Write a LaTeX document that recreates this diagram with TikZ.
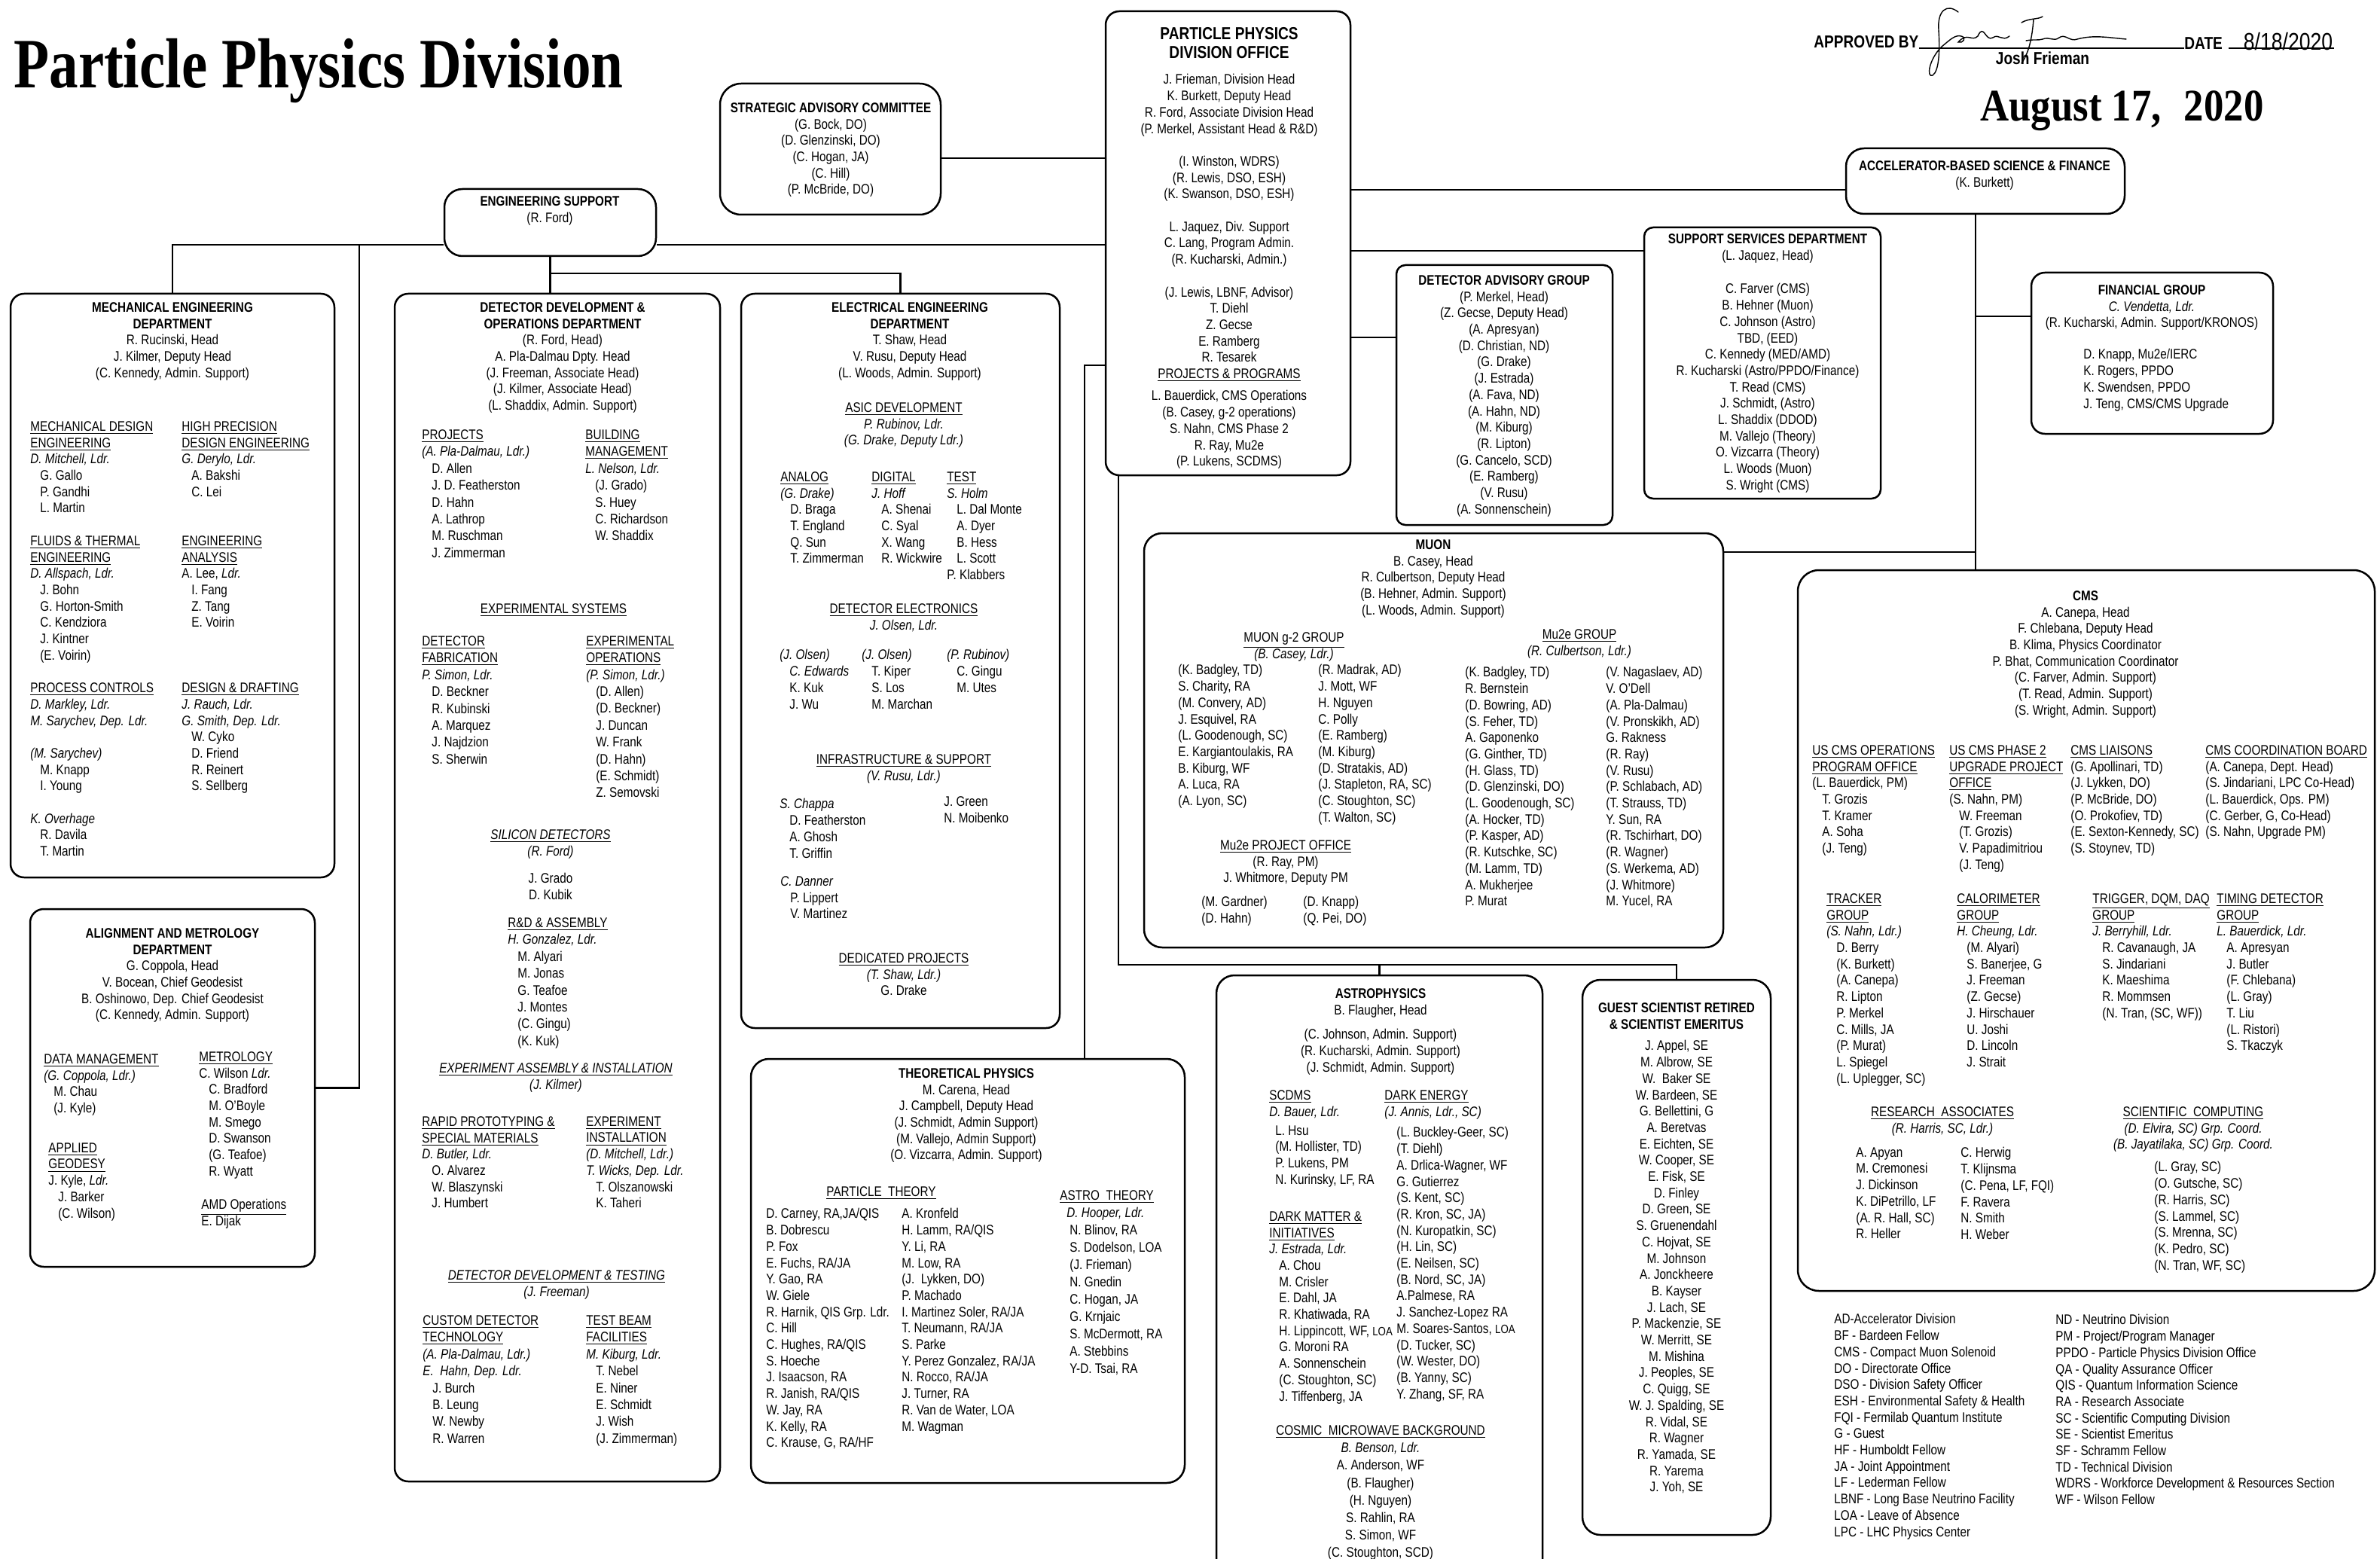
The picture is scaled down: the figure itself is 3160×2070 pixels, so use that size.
\documentclass[tikz,border=0pt]{standalone}
\usepackage{fontspec}
\setmainfont{Liberation Sans}[FakeStretch=0.83]
\newfontfamily\ttlfont{Liberation Serif}[FakeStretch=0.82]
\newfontfamily\dtfont{Liberation Serif}[FakeStretch=0.88]
\usetikzlibrary{fit}

\newcommand\nrm{\fontsize{9.2}{10.85}\selectfont}
\newcommand\ii{\hspace*{6.5pt}}
\newcommand\hd[1]{\underline{#1}}
\newcommand\hdi[1]{\underline{\textit{#1}}}
\newcommand\ld[1]{\textit{#1}}

\tikzset{
  orgbox/.style={draw, line width=1.25pt, rounded corners=9pt, inner sep=0pt},
  link/.style={line width=1.1pt},
  lst/.style={anchor=north west, align=left, inner sep=0pt, yshift=3.4pt, font=\nrm},
  cen/.style={lst, anchor=north, align=center},
  loose/.style={font=\fontsize{9.2}{11.2}\selectfont},
  sig/.style={line width=0.7pt, line cap=round},
}

\begin{document}
\begin{tikzpicture}[x=0.5pt,y=-0.5pt]
  \useasboundingbox (0,0) rectangle (3160,2070);
  \clip (0,0) rectangle (3160,2070);

  % --- header ---
  \node[anchor=base west, inner sep=0pt, font={\fontsize{47}{50}\ttlfont\bfseries}] (ttl) at (18,117) {Particle Physics Division};
  \node[anchor=base west, inner sep=0pt, font={\fontsize{30}{32}\dtfont\bfseries}] (dte) at (2629,161) {August 17,\hspace{0.5em}2020};
  \node[anchor=base west, inner sep=0pt, font={\fontsize{11.5}{12}\selectfont\bfseries}] (apprv) at (2408,64) {APPROVED BY};
  \node[anchor=base west, inner sep=0pt, font={\fontsize{11.5}{12}\selectfont\bfseries}] (datelbl) at (2900,66) {DATE};
  \node[anchor=base, inner sep=0pt, font={\fontsize{11.5}{12}\selectfont\bfseries}] (signer) at (2712,86) {Josh Frieman};
  \node[anchor=base, inner sep=0pt, font={\fontsize{16}{18}\selectfont}] (signdate) at (3038,67) {8/18/2020};
  \coordinate (lineend) at (3099,64);
  \draw[line width=0.8pt] (apprv.base east) -- (datelbl.base west |- apprv.base);
  \draw[line width=0.8pt] (datelbl.base east |- lineend) ++(8,0) -- (lineend);

  % --- signature ---
  \draw[sig] (2600,16) .. controls (2585,4) and (2572,14) .. (2574,40)
    .. controls (2576,70) and (2574,95) .. (2566,100)
    .. controls (2558,104) and (2560,80) .. (2578,62)
    .. controls (2590,52) and (2596,46) .. (2604,48)
    .. controls (2612,50) and (2606,58) .. (2600,56)
    .. controls (2612,42) and (2618,56) .. (2626,48)
    .. controls (2634,30) and (2636,56) .. (2646,50)
    .. controls (2654,44) and (2658,56) .. (2668,48);
  \draw[sig] (2684,30) .. controls (2694,24) and (2706,26) .. (2712,22);
  \draw[sig] (2700,26) .. controls (2698,50) and (2694,70) .. (2684,84);
  \draw[sig] (2690,54) .. controls (2700,52) and (2706,54) .. (2712,52)
    .. controls (2722,48) and (2726,56) .. (2734,50)
    .. controls (2742,44) and (2748,56) .. (2758,52)
    .. controls (2780,46) and (2800,50) .. (2823,52);

  % --- boxes ---
  \node[orgbox, rounded corners=14pt, fit={(956,111) (1249,285)}] (strat) {};
  \node[orgbox, fit={(1468,15) (1793,631)}] (office) {};
  \node[orgbox, rounded corners=12pt, fit={(590,251) (871,340)}] (engsup) {};
  \node[orgbox, rounded corners=12pt, fit={(2451,197) (2821,284)}] (accel) {};
  \node[orgbox, rounded corners=6pt, fit={(2183,302) (2497,662)}] (supsvc) {};
  \node[orgbox, rounded corners=6pt, fit={(1854,352) (2141,697)}] (detadv) {};
  \node[orgbox, fit={(2697,362) (3018,576)}] (fin) {};
  \node[orgbox, fit={(14,390) (444,1165)}] (mech) {};
  \node[orgbox, fit={(40,1207) (418,1682)}] (align) {};
  \node[orgbox, fit={(524,390) (956,1967)}] (ddo) {};
  \node[orgbox, fit={(984,390) (1407,1365)}] (ee) {};
  \node[orgbox, rounded corners=12pt, fit={(1519,708) (2288,1258)}] (muon) {};
  \node[orgbox, rounded corners=12pt, fit={(997,1406) (1573,1969)}] (theory) {};
  \node[orgbox, rounded corners=12pt, fit={(1615,1295) (2048,2110)}] (astro) {};
  \node[orgbox, rounded corners=12pt, fit={(2101,1301) (2351,2038)}] (guest) {};
  \node[orgbox, rounded corners=14pt, fit={(2387,757) (3153,1714)}] (cms) {};

  % --- connectors ---
  \coordinate (stbus) at (1300,210);
  \coordinate (engbus) at (229,325);
  \coordinate (alignbus) at (477,325);
  \coordinate (eebus) at (730,363);
  \coordinate (thbus) at (1440,485);
  \coordinate (lowbus) at (1485,1281);
  \coordinate (acbus) at (1800,252);
  \coordinate (svbus) at (1800,333);
  \coordinate (dabus) at (1800,448);
  \coordinate (rbus) at (2623,420);
  \coordinate (mubus) at (2623,733);
  \draw[link] (strat.east |- stbus) -- (office.west |- stbus);
  \draw[link] (office.west |- engbus) -- (engsup.east |- engbus);
  \draw[link] (engsup.west |- engbus) -- (engbus) -- (mech.north);
  \draw[link] (alignbus) |- (align.east);
  \draw[link] (engsup.south) -- (engsup.south |- ddo.north);
  \draw[link] (eebus) -| (ee.north);
  \draw[link] (office.west |- thbus) -- (thbus) -- (thbus |- theory.north);
  \draw[link] (office.south -| lowbus) -- (lowbus) -| (guest.north);
  \draw[link] (astro.north |- lowbus) -- (astro.north);
  \draw[link] (office.east |- acbus) -- (accel.west |- acbus);
  \draw[link] (office.east |- svbus) -- (supsvc.west |- svbus);
  \draw[link] (office.east |- dabus) -- (detadv.west |- dabus);
  \draw[link] (accel.south -| rbus) -- (rbus |- cms.north);
  \draw[link] (rbus) -- (fin.west |- rbus);
  \draw[link] (mubus) -- (muon.east |- mubus);

  % --- strategic advisory committee ---
  \node[cen] (strattx) at (1103,143) {\textbf{STRATEGIC ADVISORY COMMITTEE}\\(G. Bock, DO)\\(D. Glenzinski, DO)\\(C. Hogan, JA)\\(C. Hill)\\(P. McBride, DO)};

  % --- division office ---
  \node[cen, font={\fontsize{11.5}{12.5}\selectfont\bfseries}, yshift=0.9pt] (offttl) at (1632,45) {PARTICLE PHYSICS\\DIVISION OFFICE};
  \node[cen] (offstaff) at (1632,105) {J. Frieman, Division Head\\K. Burkett, Deputy Head\\R. Ford, Associate Division Head\\(P. Merkel, Assistant Head \& R\&D)\\[10.85pt](I. Winston, WDRS)\\(R. Lewis, DSO, ESH)\\(K. Swanson, DSO, ESH)\\[10.85pt]L. Jaquez, Div. Support\\C. Lang, Program Admin.\\(R. Kucharski, Admin.)\\[10.85pt](J. Lewis, LBNF, Advisor)\\T. Diehl\\Z. Gecse\\E. Ramberg\\R. Tesarek\\\hd{PROJECTS \& PROGRAMS}};
  \node[cen] (offproj) at (1632,525) {L. Bauerdick, CMS Operations\\(B. Casey, g-2 operations)\\S. Nahn, CMS Phase 2\\R. Ray, Mu2e\\(P. Lukens, SCDMS)};

  % --- engineering support, accelerator-based science ---
  \node[cen] (engsuptx) at (730,267) {\textbf{ENGINEERING SUPPORT}\\(R. Ford)};
  \node[cen] (acceltx) at (2635,220) {\textbf{ACCELERATOR-BASED SCIENCE \& FINANCE}\\(K. Burkett)};

  % --- support services ---
  \node[cen] (supsvchd) at (2347,317) {\textbf{SUPPORT SERVICES DEPARTMENT}\\(L. Jaquez, Head)};
  \node[cen] (supsvctx) at (2347,383) {C. Farver (CMS)\\B. Hehner (Muon)\\C. Johnson (Astro)\\TBD, (EED)\\C. Kennedy (MED/AMD)\\R. Kucharski (Astro/PPDO/Finance)\\T. Read (CMS)\\J. Schmidt, (Astro)\\L. Shaddix (DDOD)\\M. Vallejo (Theory)\\O. Vizcarra (Theory)\\L. Woods (Muon)\\S. Wright (CMS)};

  % --- detector advisory group ---
  \node[cen] (detadvtx) at (1997,372) {\textbf{DETECTOR ADVISORY GROUP}\\(P. Merkel, Head)\\(Z. Gecse, Deputy Head)\\(A. Apresyan)\\(D. Christian, ND)\\(G. Drake)\\(J. Estrada)\\(A. Fava, ND)\\(A. Hahn, ND)\\(M. Kiburg)\\(R. Lipton)\\(G. Cancelo, SCD)\\(E. Ramberg)\\(V. Rusu)\\(A. Sonnenschein)};

  % --- financial group ---
  \node[cen] (finhd) at (2857,385) {\textbf{FINANCIAL GROUP}\\\ld{C. Vendetta, Ldr.}\\(R. Kucharski, Admin. Support/KRONOS)};
  \node[lst] (fintx) at (2766,470) {D. Knapp, Mu2e/IERC\\K. Rogers, PPDO\\K. Swendsen, PPDO\\J. Teng, CMS/CMS Upgrade};

  % --- mechanical engineering ---
  \node[cen] (mechhd) at (229,408) {\textbf{MECHANICAL ENGINEERING}\\\textbf{DEPARTMENT}\\R. Rucinski, Head\\J. Kilmer, Deputy Head\\(C. Kennedy, Admin. Support)};
  \node[lst] (mechcola) at (40,566) {\hd{MECHANICAL DESIGN}\\\hd{ENGINEERING}\\\ld{D. Mitchell, Ldr.}\\\ii G. Gallo\\\ii P. Gandhi\\\ii L. Martin\\[10.85pt]\hd{FLUIDS \& THERMAL}\\\hd{ENGINEERING}\\\ld{D. Allspach, Ldr.}\\\ii J. Bohn\\\ii G. Horton-Smith\\\ii C. Kendziora\\\ii J. Kintner\\\ii (E. Voirin)\\[10.85pt]\hd{PROCESS CONTROLS}\\\ld{D. Markley, Ldr.}\\\ld{M. Sarychev, Dep. Ldr.}\\[10.85pt]\ld{(M. Sarychev)}\\\ii M. Knapp\\\ii I. Young\\[10.85pt]\ld{K. Overhage}\\\ii R. Davila\\\ii T. Martin};
  \node[lst] (mechcolb) at (241,566) {\hd{HIGH PRECISION}\\\hd{DESIGN ENGINEERING}\\\ld{G. Derylo, Ldr.}\\\ii A. Bakshi\\\ii C. Lei\\[21.7pt]\hd{ENGINEERING}\\\hd{ANALYSIS}\\A. Lee, \ld{Ldr.}\\\ii I. Fang\\\ii Z. Tang\\\ii E. Voirin\\[32.55pt]\hd{DESIGN \& DRAFTING}\\\ld{J. Rauch, Ldr.}\\\ld{G. Smith, Dep. Ldr.}\\\ii W. Cyko\\\ii D. Friend\\\ii R. Reinert\\\ii S. Sellberg};

  % --- alignment and metrology ---
  \node[cen] (alignhd) at (229,1239) {\textbf{ALIGNMENT AND METROLOGY}\\\textbf{DEPARTMENT}\\G. Coppola, Head\\V. Bocean, Chief Geodesist\\B. Oshinowo, Dep. Chief Geodesist\\(C. Kennedy, Admin. Support)};
  \node[lst] (aligndata) at (58,1406) {\hd{DATA MANAGEMENT}\\\ld{(G. Coppola, Ldr.)}\\\ii M. Chau\\\ii (J. Kyle)};
  \node[lst] (aligngeo) at (64,1524) {\hd{APPLIED}\\\hd{GEODESY}\\J. Kyle, \ld{Ldr.}\\\ii J. Barker\\\ii (C. Wilson)};
  \node[lst] (alignmet) at (264,1403) {\hd{METROLOGY}\\C. Wilson \ld{Ldr.}\\\ii C. Bradford\\\ii M. O’Boyle\\\ii M. Smego\\\ii D. Swanson\\\ii (G. Teafoe)\\\ii R. Wyatt};
  \node[lst] (alignamd) at (267,1599) {\hd{AMD Operations}\\E. Dijak};

  % --- detector development & operations ---
  \node[cen] (ddohd) at (747,408) {\textbf{DETECTOR DEVELOPMENT \&}\\\textbf{OPERATIONS DEPARTMENT}\\(R. Ford, Head)\\A. Pla-Dalmau Dpty. Head\\(J. Freeman, Associate Head)\\(J. Kilmer, Associate Head)\\(L. Shaddix, Admin. Support)};
  \node[lst, loose] (ddoproj) at (560,577) {\hd{PROJECTS}\\\ld{(A. Pla-Dalmau, Ldr.)}\\\ii D. Allen\\\ii J. D. Featherston\\\ii D. Hahn\\\ii A. Lathrop\\\ii M. Ruschman\\\ii J. Zimmerman};
  \node[lst, loose] (ddobldg) at (777,577) {\hd{BUILDING}\\\hd{MANAGEMENT}\\\ld{L. Nelson, Ldr.}\\\ii (J. Grado)\\\ii S. Huey\\\ii C. Richardson\\\ii W. Shaddix};
  \node[cen] (ddoexpsys) at (735,808) {\hd{EXPERIMENTAL SYSTEMS}};
  \node[lst, loose] (ddofab) at (560,851) {\hd{DETECTOR}\\\hd{FABRICATION}\\\ld{P. Simon, Ldr.}\\\ii D. Beckner\\\ii R. Kubinski\\\ii A. Marquez\\\ii J. Najdzion\\\ii S. Sherwin};
  \node[lst, loose] (ddoops) at (778,851) {\hd{EXPERIMENTAL}\\\hd{OPERATIONS}\\\ld{(P. Simon, Ldr.)}\\\ii (D. Allen)\\\ii (D. Beckner)\\\ii J. Duncan\\\ii W. Frank\\\ii (D. Hahn)\\\ii (E. Schmidt)\\\ii Z. Semovski};
  \node[cen] (ddosil) at (731,1108) {\hdi{SILICON DETECTORS}\\\ld{(R. Ford)}};
  \node[cen] (ddosilnm) at (731,1166) {J. Grado\\D. Kubik};
  \node[lst, loose] (ddornd) at (674,1225) {\hd{R\&D \& ASSEMBLY}\\\ld{H. Gonzalez, Ldr.}\\\ii M. Alyari\\\ii M. Jonas\\\ii G. Teafoe\\\ii J. Montes\\\ii (C. Gingu)\\\ii (K. Kuk)};
  \node[cen] (ddoasm) at (738,1418) {\hdi{EXPERIMENT ASSEMBLY \& INSTALLATION}\\\ld{(J. Kilmer)}};
  \node[lst] (ddorapid) at (560,1489) {\hd{RAPID PROTOTYPING \&}\\\hd{SPECIAL MATERIALS}\\\ld{D. Butler, Ldr.}\\\ii O. Alvarez\\\ii W. Blaszynski\\\ii J. Humbert};
  \node[lst] (ddoinst) at (778,1489) {\hd{EXPERIMENT}\\\hd{INSTALLATION}\\\ld{(D. Mitchell, Ldr.)}\\\ld{T. Wicks, Dep. Ldr.}\\\ii T. Olszanowski\\\ii K. Taheri};
  \node[cen] (ddotest) at (739,1693) {\hdi{DETECTOR DEVELOPMENT \& TESTING}\\\ld{(J. Freeman)}};
  \node[lst, loose] (ddocustom) at (561,1753) {\hd{CUSTOM DETECTOR}\\\hd{TECHNOLOGY}\\\ld{(A. Pla-Dalmau, Ldr.)}\\\ld{E.\ \ Hahn, Dep. Ldr.}\\\ii J. Burch\\\ii B. Leung\\\ii W. Newby\\\ii R. Warren};
  \node[lst, loose] (ddobeam) at (778,1753) {\hd{TEST BEAM}\\\hd{FACILITIES}\\\ld{M. Kiburg, Ldr.}\\\ii T. Nebel\\\ii E. Niner\\\ii E. Schmidt\\\ii J. Wish\\\ii (J. Zimmerman)};

  % --- electrical engineering ---
  \node[cen] (eehd) at (1208,408) {\textbf{ELECTRICAL ENGINEERING}\\\textbf{DEPARTMENT}\\T. Shaw, Head\\V. Rusu, Deputy Head\\(L. Woods, Admin. Support)};
  \node[cen] (eeasic) at (1200,541) {\hd{ASIC DEVELOPMENT}\\\ld{P. Rubinov, Ldr.}\\\ld{(G. Drake, Deputy Ldr.)}};
  \node[lst] (eeanalog) at (1036,633) {\hd{ANALOG}\\\ld{(G. Drake)}\\\ii D. Braga\\\ii T. England\\\ii Q. Sun\\\ii T. Zimmerman};
  \node[lst] (eedigital) at (1157,633) {\hd{DIGITAL}\\\ld{J. Hoff}\\\ii A. Shenai\\\ii C. Syal\\\ii X. Wang\\\ii R. Wickwire};
  \node[lst] (eetest) at (1257,633) {\hd{TEST}\\\ld{S. Holm}\\\ii L. Dal Monte\\\ii A. Dyer\\\ii B. Hess\\\ii L. Scott\\P. Klabbers};
  \node[cen] (eedet) at (1200,808) {\hd{DETECTOR ELECTRONICS}\\\ld{J. Olsen, Ldr.}};
  \node[lst] (eedeta) at (1035,869) {\ld{(J. Olsen)}\\\ii\ld{C. Edwards}\\\ii K. Kuk\\\ii J. Wu};
  \node[lst] (eedetb) at (1144,869) {\ld{(J. Olsen)}\\\ii T. Kiper\\\ii S. Los\\\ii M. Marchan};
  \node[lst] (eedetc) at (1257,869) {\ld{(P. Rubinov)}\\\ii C. Gingu\\\ii M. Utes};
  \node[cen] (eeinfra) at (1200,1008) {\hd{INFRASTRUCTURE \& SUPPORT}\\\ld{(V. Rusu, Ldr.)}};
  \node[lst] (eechappa) at (1035,1067) {\ld{S. Chappa}\\\ii D. Featherston\\\ii A. Ghosh\\\ii T. Griffin};
  \node[lst] (eedanner) at (1036,1170) {\ld{C. Danner}\\\ii P. Lippert\\\ii V. Martinez};
  \node[lst] (eegreen) at (1253,1064) {J. Green\\N. Moibenko};
  \node[cen] (eeded) at (1200,1272) {\hd{DEDICATED PROJECTS}\\\ld{(T. Shaw, Ldr.)}\\G. Drake};

  % --- muon ---
  \node[cen] (muonhd) at (1903,723) {\textbf{MUON}\\B. Casey, Head\\R. Culbertson, Deputy Head\\(B. Hehner, Admin. Support)\\(L. Woods, Admin. Support)};
  \node[cen] (gmtwohd) at (1718,846) {\hd{MUON g-2 GROUP}\\\ld{(B. Casey, Ldr.)}};
  \node[lst] (gmtwoa) at (1564,889) {(K. Badgley, TD)\\S. Charity, RA\\(M. Convery, AD)\\J. Esquivel, RA\\(L. Goodenough, SC)\\E. Kargiantoulakis, RA\\B. Kiburg, WF\\A. Luca, RA\\(A. Lyon, SC)};
  \node[lst] (gmtwob) at (1750,889) {(R. Madrak, AD)\\J. Mott, WF\\H. Nguyen\\C. Polly\\(E. Ramberg)\\(M. Kiburg)\\(D. Stratakis, AD)\\(J. Stapleton, RA, SC)\\(C. Stoughton, SC)\\(T. Walton, SC)};
  \node[cen] (mutwoepo) at (1707,1122) {\hd{Mu2e PROJECT OFFICE}\\(R. Ray, PM)\\J. Whitmore, Deputy PM};
  \node[lst] (mutwoepoa) at (1595,1197) {(M. Gardner)\\(D. Hahn)};
  \node[lst] (mutwoepob) at (1730,1197) {(D. Knapp)\\(Q. Pei, DO)};
  \node[cen] (mutwoehd) at (2097,842) {\hd{Mu2e GROUP}\\\ld{(R. Culbertson, Ldr.)}};
  \node[lst] (mutwoea) at (1945,892) {(K. Badgley, TD)\\R. Bernstein\\(D. Bowring, AD)\\(S. Feher, TD)\\A. Gaponenko\\(G. Ginther, TD)\\(H. Glass, TD)\\(D. Glenzinski, DO)\\(L. Goodenough, SC)\\(A. Hocker, TD)\\(P. Kasper, AD)\\(R. Kutschke, SC)\\(M. Lamm, TD)\\A. Mukherjee\\P. Murat};
  \node[lst] (mutwoeb) at (2132,892) {(V. Nagaslaev, AD)\\V. O’Dell\\(A. Pla-Dalmau)\\(V. Pronskikh, AD)\\G. Rakness\\(R. Ray)\\(V. Rusu)\\(P. Schlabach, AD)\\(T. Strauss, TD)\\Y. Sun, RA\\(R. Tschirhart, DO)\\(R. Wagner)\\(S. Werkema, AD)\\(J. Whitmore)\\M. Yucel, RA};

  % --- theoretical physics ---
  \node[cen] (theohd) at (1283,1425) {\textbf{THEORETICAL PHYSICS}\\M. Carena, Head\\J. Campbell, Deputy Head\\(J. Schmidt, Admin Support)\\(M. Vallejo, Admin Support)\\(O. Vizcarra, Admin. Support)};
  \node[cen] (theopart) at (1170,1582) {\hd{PARTICLE\ \ THEORY}};
  \node[lst] (theoparta) at (1017,1611) {D. Carney, RA,JA/QIS\\B. Dobrescu\\P. Fox\\E. Fuchs, RA/JA\\Y. Gao, RA\\W. Giele\\R. Harnik, QIS Grp. Ldr.\\C. Hill\\C. Hughes, RA/QIS\\S. Hoeche\\J. Isaacson, RA\\R. Janish, RA/QIS\\W. Jay, RA\\K. Kelly, RA\\C. Krause, G, RA/HF};
  \node[lst] (theopartb) at (1197,1611) {A. Kronfeld\\H. Lamm, RA/QIS\\Y. Li, RA\\M. Low, RA\\(J.\ \ Lykken, DO)\\P. Machado\\I. Martinez Soler, RA/JA\\T. Neumann, RA/JA\\S. Parke\\Y. Perez Gonzalez, RA/JA\\N. Rocco, RA/JA\\J. Turner, RA\\R. Van de Water, LOA\\M. Wagman};
  \node[lst, font={\fontsize{9.2}{11.5}\selectfont}] (theoastro) at (1407,1587) {\hd{ASTRO\ \ THEORY}\\\hspace*{4.5pt}\ld{D. Hooper, Ldr.}\\\ii N. Blinov, RA\\\ii S. Dodelson, LOA\\\ii (J. Frieman)\\\ii N. Gnedin\\\ii C. Hogan, JA\\\ii G. Krnjaic\\\ii S. McDermott, RA\\\ii A. Stebbins\\\ii Y-D. Tsai, RA};

  % --- astrophysics ---
  \node[cen] (astrohd) at (1833,1319) {\textbf{ASTROPHYSICS}\\B. Flaugher, Head};
  \node[cen] (astroadm) at (1833,1373) {(C. Johnson, Admin. Support)\\(R. Kucharski, Admin. Support)\\(J. Schmidt, Admin. Support)};
  \node[lst] (scdmshd) at (1685,1454) {\hd{SCDMS}\\\ld{D. Bauer, Ldr.}};
  \node[lst] (scdms) at (1693,1501) {L. Hsu\\(M. Hollister, TD)\\P. Lukens, PM\\N. Kurinsky, LF, RA};
  \node[lst] (darkmat) at (1685,1615) {\hd{DARK MATTER \&}\\\hd{INITIATIVES}\\\ld{J. Estrada, Ldr.}\\\ii A. Chou\\\ii M. Crisler\\\ii E. Dahl, JA\\\ii R. Khatiwada, RA\\\ii H. Lippincott, WF, {\footnotesize LOA}\\\ii G. Moroni RA\\\ii A. Sonnenschein\\\ii (C. Stoughton, SC)\\\ii J. Tiffenberg, JA};
  \node[lst] (darkenhd) at (1838,1454) {\hd{DARK ENERGY}\\\ld{(J. Annis, Ldr., SC)}};
  \node[lst] (darken) at (1854,1503) {(L. Buckley-Geer, SC)\\(T. Diehl)\\A. Drlica-Wagner, WF\\G. Gutierrez\\(S. Kent, SC)\\(R. Kron, SC, JA)\\(N. Kuropatkin, SC)\\(H. Lin, SC)\\(E. Neilsen, SC)\\(B. Nord, SC, JA)\\A.Palmese, RA\\J. Sanchez-Lopez RA\\M. Soares-Santos, {\footnotesize LOA}\\(D. Tucker, SC)\\(W. Wester, DO)\\(B. Yanny, SC)\\Y. Zhang, SF, RA};
  \node[cen, font={\fontsize{9.2}{11.6}\selectfont}] (cmb) at (1833,1899) {\hd{COSMIC\ \ MICROWAVE BACKGROUND}\\\ld{B. Benson, Ldr.}\\A. Anderson, WF\\(B. Flaugher)\\(H. Nguyen)\\S. Rahlin, RA\\S. Simon, WF\\(C. Stoughton, SCD)};

  % --- guest scientists ---
  \node[cen] (guesthd) at (2226,1338) {\textbf{GUEST SCIENTIST RETIRED}\\\textbf{\& SCIENTIST EMERITUS}};
  \node[cen] (guesttx) at (2226,1388) {J. Appel, SE\\M. Albrow, SE\\W.\ \ Baker SE\\W. Bardeen, SE\\G. Bellettini, G\\A. Beretvas\\E. Eichten, SE\\W. Cooper, SE\\E. Fisk, SE\\D. Finley\\D. Green, SE\\S. Gruenendahl\\C. Hojvat, SE\\M. Johnson\\A. Jonckheere\\B. Kayser\\J. Lach, SE\\P. Mackenzie, SE\\W. Merritt, SE\\M. Mishina\\J. Peoples, SE\\C. Quigg, SE\\W. J. Spalding, SE\\R. Vidal, SE\\R. Wagner\\R. Yamada, SE\\R. Yarema\\J. Yoh, SE};

  % --- cms ---
  \node[cen] (cmshd) at (2769,791) {\textbf{CMS}\\A. Canepa, Head\\F. Chlebana, Deputy Head\\B. Klima, Physics Coordinator\\P. Bhat, Communication Coordinator\\(C. Farver, Admin. Support)\\(T. Read, Admin. Support)\\(S. Wright, Admin. Support)};
  \node[lst] (cmsops) at (2406,996) {\hd{US CMS OPERATIONS}\\\hd{PROGRAM OFFICE}\\(L. Bauerdick, PM)\\\ii T. Grozis\\\ii T. Kramer\\\ii A. Soha\\\ii (J. Teng)};
  \node[lst] (cmsphase) at (2588,996) {\hd{US CMS PHASE 2}\\\hd{UPGRADE PROJECT}\\\hd{OFFICE}\\(S. Nahn, PM)\\\ii W. Freeman\\\ii (T. Grozis)\\\ii V. Papadimitriou\\\ii (J. Teng)};
  \node[lst] (cmsliais) at (2749,996) {\hd{CMS LIAISONS}\\(G. Apollinari, TD)\\(J. Lykken, DO)\\(P. McBride, DO)\\(O. Prokofiev, TD)\\(E. Sexton-Kennedy, SC)\\(S. Stoynev, TD)};
  \node[lst] (cmscoord) at (2928,996) {\hd{CMS COORDINATION BOARD}\\(A. Canepa, Dept. Head)\\(S. Jindariani, LPC Co-Head)\\(L. Bauerdick, Ops. PM)\\(C. Gerber, G, Co-Head)\\(S. Nahn, Upgrade PM)};
  \node[lst] (cmstrack) at (2425,1193) {\hd{TRACKER}\\\hd{GROUP}\\\ld{(S. Nahn, Ldr.)}\\\ii D. Berry\\\ii (K. Burkett)\\\ii (A. Canepa)\\\ii R. Lipton\\\ii P. Merkel\\\ii C. Mills, JA\\\ii (P. Murat)\\\ii L. Spiegel\\\ii (L. Uplegger, SC)};
  \node[lst] (cmscalo) at (2598,1193) {\hd{CALORIMETER}\\\hd{GROUP}\\\ld{H. Cheung, Ldr.}\\\ii (M. Alyari)\\\ii S. Banerjee, G\\\ii J. Freeman\\\ii (Z. Gecse)\\\ii J. Hirschauer\\\ii U. Joshi\\\ii D. Lincoln\\\ii J. Strait};
  \node[lst] (cmstrig) at (2778,1193) {\hd{TRIGGER, DQM, DAQ}\\\hd{GROUP}\\\ld{J. Berryhill, Ldr.}\\\ii R. Cavanaugh, JA\\\ii S. Jindariani\\\ii K. Maeshima\\\ii R. Mommsen\\\ii (N. Tran, (SC, WF))};
  \node[lst] (cmstime) at (2943,1193) {\hd{TIMING DETECTOR}\\\hd{GROUP}\\\ld{L. Bauerdick, Ldr.}\\\ii A. Apresyan\\\ii J. Butler\\\ii (F. Chlebana)\\\ii (L. Gray)\\\ii T. Liu\\\ii (L. Ristori)\\\ii S. Tkaczyk};
  \node[cen] (cmsrahd) at (2579,1476) {\hd{RESEARCH\ \ ASSOCIATES}\\\ld{(R. Harris, SC, Ldr.)}};
  \node[lst] (cmsraa) at (2464,1530) {A. Apyan\\M. Cremonesi\\J. Dickinson\\K. DiPetrillo, LF\\(A. R. Hall, SC)\\R. Heller};
  \node[lst] (cmsrab) at (2603,1530) {C. Herwig\\T. Klijnsma\\(C. Pena, LF, FQI)\\F. Ravera\\N. Smith\\H. Weber};
  \node[cen] (cmsschd) at (2912,1476) {\hd{SCIENTIFIC\ \ COMPUTING}\\\ld{(D. Elvira, SC) Grp. Coord.}\\\ld{(B. Jayatilaka, SC) Grp. Coord.}};
  \node[lst] (cmssc) at (2860,1549) {(L. Gray, SC)\\(O. Gutsche, SC)\\(R. Harris, SC)\\(S. Lammel, SC)\\(S. Mrenna, SC)\\(K. Pedro, SC)\\(N. Tran, WF, SC)};

  % --- abbreviations ---
  \node[lst] (abbra) at (2435,1751) {AD-Accelerator Division\\BF - Bardeen Fellow\\CMS - Compact Muon Solenoid\\DO - Directorate Office\\DSO - Division Safety Officer\\ESH - Environmental Safety \& Health\\FQI - Fermilab Quantum Institute\\G - Guest\\HF - Humboldt Fellow\\JA - Joint Appointment\\LF - Lederman Fellow\\LBNF - Long Base Neutrino Facility\\LOA - Leave of Absence\\LPC - LHC Physics Center};
  \node[lst] (abbrb) at (2729,1752) {ND - Neutrino Division\\PM - Project/Program Manager\\PPDO - Particle Physics Division Office\\QA - Quality Assurance Officer\\QIS - Quantum Information Science\\RA - Research Associate\\SC - Scientific Computing Division\\SE - Scientist Emeritus\\SF - Schramm Fellow\\TD - Technical Division\\WDRS - Workforce Development \& Resources Section\\WF - Wilson Fellow};

\end{tikzpicture}
\end{document}
